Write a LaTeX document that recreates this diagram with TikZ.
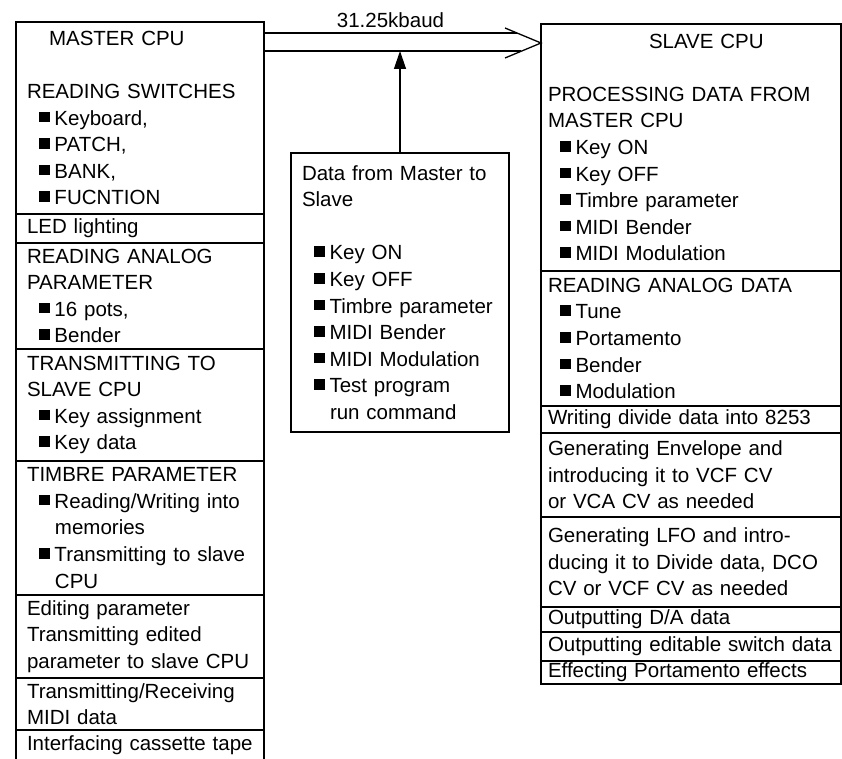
\documentclass[tikz,border=0pt]{standalone}
\usepackage{fontspec}
\setmainfont{Liberation Sans}
\usepackage{tikz}
\usetikzlibrary{positioning,arrows.meta}
\tikzset{
  mstage/.style={draw, rectangle, line width=1.2pt, text width=226pt, inner xsep=11pt, inner ysep=0pt, outer sep=0pt, align=left, font=\fontsize{20.5}{26.6}\selectfont},
  sstage/.style={mstage, text width=286pt, inner xsep=7pt},
  msgbox/.style={mstage, text width=196pt},
  bus/.style={line width=1.3pt},
  feed/.style={-{Triangle[length=18pt,width=12pt]}, line width=1.3pt},
  note/.style={font=\fontsize{20.5}{24}\selectfont, inner sep=5pt}
}
\newcommand{\itm}[1]{\hspace*{12pt}\raisebox{3pt}{\rule{10.5pt}{10.5pt}}\hspace{5pt}#1}
\newcommand{\cnt}{\hspace*{28pt}}

\begin{document}
\begin{tikzpicture}[x=1pt, y=1pt]
    \useasboundingbox (0,0) rectangle (842,-759);

    \node[mstage, anchor=north west, minimum height=192pt] (mhead) at (16,-22) {\hspace*{22pt}MASTER CPU\\[26.6pt] READING SWITCHES\\ \itm{Keyboard,}\\ \itm{PATCH,}\\ \itm{BANK,}\\ \itm{FUCNTION}};
    \node[mstage, minimum height=29pt, below=0pt of mhead] (mled) {LED lighting};
    \node[mstage, minimum height=106pt, below=0pt of mled] (manalog) {READING ANALOG\\ PARAMETER\\ \itm{16 pots,}\\ \itm{Bender}};
    \node[mstage, minimum height=112pt, below=0pt of manalog] (mtrans) {TRANSMITTING TO\\ SLAVE CPU\\ \itm{Key assignment}\\ \itm{Key data}};
    \node[mstage, minimum height=134pt, below=0pt of mtrans] (mtimbre) {TIMBRE PARAMETER\\ \itm{Reading/Writing into}\\ \cnt memories\\ \itm{Transmitting to slave}\\ \cnt CPU};
    \node[mstage, minimum height=83pt, below=0pt of mtimbre] (medit) {Editing parameter\\ Transmitting edited\\ parameter to slave CPU};
    \node[mstage, minimum height=52pt, below=0pt of medit] (mmidi) {Transmitting/Receiving\\ MIDI data};
    \node[mstage, minimum height=31pt, below=0pt of mmidi] (mtape) {Interfacing cassette tape};

    \node[msgbox, anchor=north west, minimum height=279pt] (data) at (291,-153) {Data from Master to\\ Slave\\[26.6pt] \itm{Key ON}\\ \itm{Key OFF}\\ \itm{Timbre parameter}\\ \itm{MIDI Bender}\\ \itm{MIDI Modulation}\\ \itm{Test program}\\ \cnt run command};

    \node[sstage, anchor=north west, minimum height=247pt] (shead) at (541,-24) {\hspace*{101pt}SLAVE CPU\\[26.6pt] PROCESSING DATA FROM\\ MASTER CPU\\ \itm{Key ON}\\ \itm{Key OFF}\\ \itm{Timbre parameter}\\ \itm{MIDI Bender}\\ \itm{MIDI Modulation}};
    \node[sstage, minimum height=135pt, below=0pt of shead] (sanalog) {READING ANALOG DATA\\ \itm{Tune}\\ \itm{Portamento}\\ \itm{Bender}\\ \itm{Modulation}};
    \node[sstage, minimum height=27pt, below=0pt of sanalog] (sdivide) {Writing divide data into 8253};
    \node[sstage, minimum height=84pt, below=0pt of sdivide] (senv) {Generating Envelope and\\ introducing it to VCF CV\\ or VCA CV as needed};
    \node[sstage, minimum height=90pt, below=0pt of senv] (slfo) {Generating LFO and intro-\\ ducing it to Divide data, DCO\\ CV or VCF CV as needed};
    \node[sstage, minimum height=25pt, below=0pt of slfo] (sda) {Outputting D/A data};
    \node[sstage, minimum height=29pt, below=0pt of sda] (sswitch) {Outputting editable switch data};
    \node[sstage, minimum height=23pt, below=0pt of sswitch] (sporta) {Effecting Portamento effects};

    \coordinate (hi) at ([yshift=-11pt]mhead.north east);
    \coordinate (lo) at ([yshift=-29pt]mhead.north east);
    \coordinate (tip) at ([yshift=-19pt]shead.north west);
    \coordinate (hiend) at ([xshift=-24pt,yshift=10pt]tip);
    \coordinate (loend) at ([xshift=-20pt,yshift=-8pt]tip);
    \coordinate (barbhi) at ([xshift=-36pt,yshift=15pt]tip);
    \coordinate (barblo) at ([xshift=-36pt,yshift=-15pt]tip);
    \coordinate (join) at (data.north |- lo);

    \draw[bus] (hi) -- node[note, above] {31.25kbaud} (hiend);
    \draw[bus] (lo) -- (loend);
    \draw[bus] (barbhi) -- (tip) -- (barblo);
    \draw[feed] (data) -- (join);
\end{tikzpicture}
\end{document}
